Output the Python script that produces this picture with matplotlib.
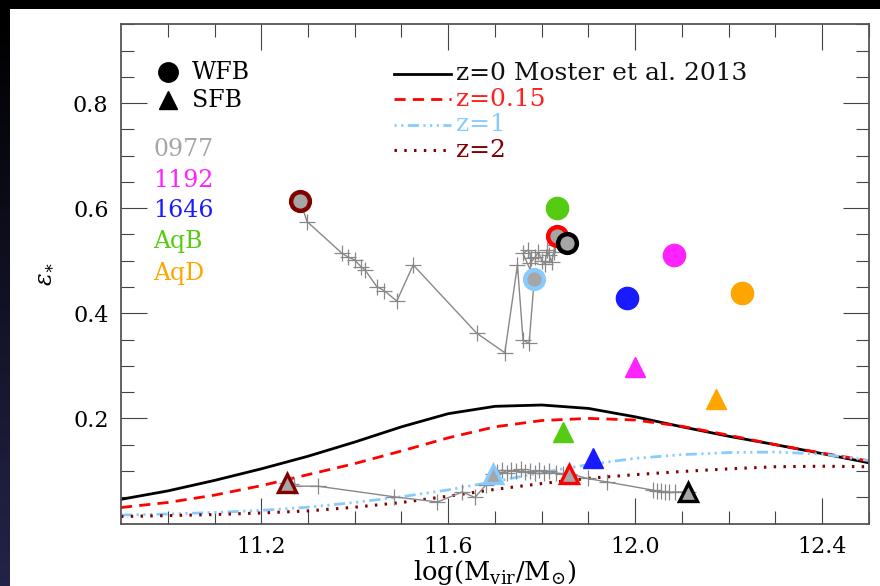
import numpy as np
import matplotlib
matplotlib.use("Agg")
import matplotlib.pyplot as plt
from matplotlib.patches import Rectangle
from matplotlib.colors import LinearSegmentedColormap

plt.rcParams['font.family'] = ['DejaVu Serif']
plt.rcParams['mathtext.fontset'] = 'dejavuserif'

# ---------------- data ----------------
mhalo_grid = [10.9, 11.0, 11.1, 11.2, 11.3, 11.4, 11.5, 11.6, 11.7, 11.8, 11.9,
              12.0, 12.1, 12.2, 12.3, 12.4, 12.5]
eff_z0 = [0.046, 0.062, 0.082, 0.104, 0.128, 0.155, 0.184, 0.209, 0.223, 0.2255,
          0.219, 0.203, 0.184, 0.166, 0.150, 0.133, 0.1155]
eff_z015 = [0.0305, 0.040, 0.054, 0.072, 0.093, 0.114, 0.138, 0.163, 0.184, 0.196,
            0.200, 0.197, 0.185, 0.168, 0.150, 0.134, 0.119]
eff_z1 = [0.016, 0.018, 0.021, 0.025, 0.031, 0.040, 0.051, 0.064, 0.080, 0.097,
          0.112, 0.124, 0.131, 0.135, 0.136, 0.132, 0.120]
eff_z2 = [0.0133, 0.015, 0.017, 0.020, 0.024, 0.031, 0.040, 0.052, 0.065, 0.076,
          0.086, 0.093, 0.099, 0.104, 0.108, 0.109, 0.108]

line_labels = ["z=0 Moster et al. 2013", "z=0.15", "z=1", "z=2"]

# other galaxies at z=0 (WFB circles, SFB triangles)
gal_names = ["1192", "1646", "AqB", "AqD"]
gal_colors = ["#ff22ff", "#1a1aff", "#55cc11", "#ffa500"]
wfb_mvir = [12.083, 11.982, 11.832, 12.228]
wfb_eps = [0.511, 0.430, 0.601, 0.439]
sfb_mvir = [12.000, 11.910, 11.845, 12.173]
sfb_eps = [0.298, 0.124, 0.174, 0.236]

# 0977 evolution tracks
wfb_track_mvir = [11.283, 11.298, 11.373, 11.386, 11.400, 11.413, 11.422, 11.447, 11.463,
                  11.490, 11.525, 11.661, 11.721, 11.748, 11.760, 11.773, 11.784,
                  11.760, 11.771, 11.778, 11.775, 11.786, 11.793, 11.800, 11.807,
                  11.811, 11.816, 11.821, 11.826, 11.828, 11.832, 11.855]
wfb_track_eps = [0.6145, 0.5745, 0.514, 0.507, 0.5015, 0.489, 0.4825, 0.451, 0.443,
                 0.4235, 0.492, 0.362, 0.325, 0.492, 0.349, 0.343, 0.465,
                 0.514, 0.5206, 0.505, 0.495, 0.5067, 0.5173, 0.500, 0.4935,
                 0.5206, 0.511, 0.497, 0.5173, 0.530, 0.547, 0.533]
sfb_track_mvir = [11.256, 11.264, 11.271, 11.321, 11.485, 11.577, 11.630, 11.657, 11.680,
                  11.695, 11.705, 11.715, 11.725, 11.735, 11.745, 11.755, 11.765, 11.775,
                  11.785, 11.795, 11.805, 11.815, 11.830, 11.845, 11.858, 11.898, 11.940,
                  12.039, 12.046, 12.055, 12.063, 12.072, 12.085, 12.112]
sfb_track_eps = [0.0777, 0.075, 0.071, 0.071, 0.0507, 0.041, 0.060, 0.0495, 0.073,
                 0.0933, 0.098, 0.102, 0.097, 0.101, 0.099, 0.103, 0.098, 0.100,
                 0.097, 0.101, 0.096, 0.099, 0.096, 0.095, 0.095, 0.0857, 0.079,
                 0.0634, 0.062, 0.061, 0.060, 0.059, 0.060, 0.060]
# 0977 snapshots at z = 2, 1, 0.15, 0
snap_edge_colors = ["#800000", "#88ccff", "#ff0000", "#000000"]
wfb_snap_mvir = [11.283, 11.784, 11.832, 11.855]
wfb_snap_eps = [0.6145, 0.465, 0.547, 0.533]
sfb_snap_mvir = [11.256, 11.695, 11.858, 12.112]
sfb_snap_eps = [0.0777, 0.0933, 0.095, 0.060]

# ---------------- figure ----------------
W, H = 880, 586
fig = plt.figure(figsize=(W / 100, H / 100), dpi=100, facecolor="white")

# dark slide border (top and left)
fig.patches.append(Rectangle((0, 1 - 9 / H), 1, 9 / H, transform=fig.transFigure,
                             facecolor="black", edgecolor="none", zorder=0))
bax = fig.add_axes([0, 0, 9 / W, 1 - 9 / H])
cmap = LinearSegmentedColormap.from_list("b", ["#000000", "#23234a"])
bax.imshow(np.linspace(0, 1, 100)[:, None], aspect="auto", cmap=cmap)
bax.axis("off")

ax = fig.add_axes([121 / W, (H - 523.5) / H, (869 - 121) / W, (523.5 - 24.3) / H])
ax.set_xlim(10.9, 12.5)
ax.set_ylim(0.0, 0.95)

# curves
ax.plot(mhalo_grid, eff_z0, color="black", lw=2.0, zorder=2)
ax.plot(mhalo_grid, eff_z015, color="#ff0000", lw=2.0, dashes=(4, 2.6), zorder=2)
ax.plot(mhalo_grid, eff_z1, color="#88ccff", lw=2.0,
        dashes=(4, 1.6, 0.8, 1.6, 0.8, 1.6, 0.8, 1.6), zorder=2)
ax.plot(mhalo_grid, eff_z2, color="#800000", lw=2.2, dashes=(0.8, 2.4), zorder=2)

# tracks
ax.plot(wfb_track_mvir, wfb_track_eps, color="#888888", lw=1.0, marker="+", ms=12,
        mew=0.9, zorder=3)
ax.plot(sfb_track_mvir, sfb_track_eps, color="#888888", lw=1.0, marker="+", ms=12,
        mew=0.9, zorder=3)

# other galaxies
for xm, ym, c in zip(wfb_mvir, wfb_eps, gal_colors):
    ax.plot(xm, ym, "o", ms=16, color=c, mec=c, zorder=4)
for xm, ym, c in zip(sfb_mvir, sfb_eps, gal_colors):
    ax.plot(xm, ym, "^", ms=14, color=c, mec=c, zorder=4)

# 0977 snapshots
for xm, ym, ec in zip(wfb_snap_mvir, wfb_snap_eps, snap_edge_colors):
    ax.plot(xm, ym, "o", ms=13.5, mfc="#a6a6a6", mec=ec, mew=3.2, zorder=5)
for xm, ym, ec in zip(sfb_snap_mvir, sfb_snap_eps, snap_edge_colors):
    ax.plot(xm, ym, "^", ms=12.5, mfc="#a6a6a6", mec=ec, mew=2.4, zorder=5)

# ticks
ax.set_xticks([11.2, 11.6, 12.0, 12.4])
ax.set_xticks(np.arange(11.0, 12.55, 0.1), minor=True)
ax.set_yticks([0.2, 0.4, 0.6, 0.8])
ax.set_yticks(np.arange(0.05, 0.951, 0.05), minor=True)
ax.set_xticklabels(["11.2", "11.6", "12.0", "12.4"])
ax.set_yticklabels(["0.2", "0.4", "0.6", "0.8"])
ax.tick_params(which="both", direction="in", top=True, right=True, color="#444444",
               width=0.8, labelsize=16)
ax.tick_params(which="major", length=18.5)
ax.tick_params(which="minor", length=9.3)
ax.tick_params(axis="y", pad=9)
ax.tick_params(axis="x", pad=9)
for s in ax.spines.values():
    s.set_color("#555555")
    s.set_linewidth(1.3)

ax.set_xlabel(r"$\mathrm{log(M_{vir}/M_{\odot})}$", fontsize=18.5, labelpad=0)
ax.set_ylabel(r"$\varepsilon_{\ast}$", fontsize=17, labelpad=12)

# legend: marker types
def axfrac(px, py):
    return (px - 121) / (869 - 121), (523.5 - py) / (523.5 - 24.3)

for (py, mk, lab) in [(72.3, "o", "WFB"), (100.0, "^", "SFB")]:
    fx, fy = axfrac(168.3, py)
    ax.plot([fx], [fy], mk, ms=14 if mk == "o" else 13, color="black",
            transform=ax.transAxes, clip_on=False)
    tx, ty = axfrac(191.5, py)
    ax.text(tx, ty, lab, transform=ax.transAxes, fontsize=17, va="center", ha="left")

# legend: galaxy names
for (py, lab, c) in [(149.3, "0977", "#a6a6a6")] + list(zip([180.0, 210.7, 241.7, 273.3],
                                                           gal_names, gal_colors)):
    tx, ty = axfrac(153, py)
    ax.text(tx, ty, lab, transform=ax.transAxes, fontsize=17, va="center", ha="left",
            color=c)

# legend: lines
line_styles = [dict(color="black", lw=2.0),
               dict(color="#ff0000", lw=2.0, dashes=(4, 2.6)),
               dict(color="#88ccff", lw=2.0, dashes=(0.8, 1.6, 0.8, 1.6, 4, 1.6, 0.8, 1.6)),
               dict(color="#800000", lw=2.2, dashes=(0.8, 2.4))]
text_colors = ["#111111", "#ff2020", "#88ccff", "#800000"]
for py, lab, st, tc in zip([73.5, 99.0, 124.5, 150.0], line_labels, line_styles, text_colors):
    x0, y0 = axfrac(394, py)
    x1, _ = axfrac(451, py)
    ax.plot([x0, x1], [y0, y0], transform=ax.transAxes, clip_on=False, **st)
    tx, _ = axfrac(456, py)
    ax.text(tx, y0, lab, transform=ax.transAxes, fontsize=18, va="center", ha="left",
            color=tc)

fig.savefig("out.png", dpi=100, facecolor="white")
